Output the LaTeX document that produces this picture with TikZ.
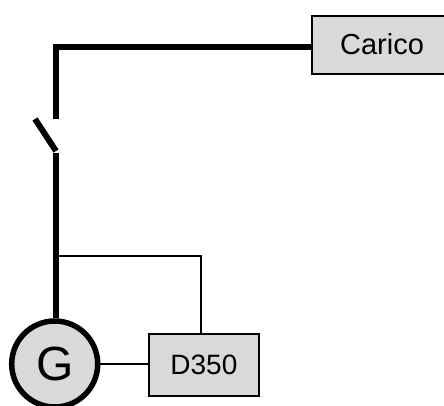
\documentclass[tikz,border=0pt]{standalone}
\usepackage{fontspec}
\setmainfont{Liberation Sans}
\definecolor{boxgray}{HTML}{D9D9D9}
\tikzset{
  thick wire/.style={draw=black,line width=6pt},
  thin wire/.style={draw=black,line width=2.5pt},
  blockbox/.style={draw=black,line width=1.8pt,fill=boxgray,rectangle,inner sep=0pt,anchor=north west},
  gen/.style={draw=black,line width=5.5pt,fill=boxgray,circle,inner sep=0pt,minimum size=86pt}
}
\begin{document}
\begin{tikzpicture}[x=1pt,y=-1pt]
\useasboundingbox (0,0) rectangle (444,406);
\clip (0,0) rectangle (444,406);
\node[blockbox,minimum width=140pt,minimum height=58pt] (carico) at (311,15) {};
\node[font=\fontsize{29}{32}\selectfont] (caricotxt) at (382,44.5) {Carico};
\node[blockbox,minimum width=110pt,minimum height=62pt] (d350) at (148,333) {\fontsize{28}{30}\selectfont D350};
\node[gen,font=\fontsize{48}{50}\selectfont] (g) at (54.7,364) {G};
\coordinate (corner) at (56,47.5);
\coordinate (swtop) at (56,119);
\coordinate (swa) at (35,119);
\coordinate (swb) at (56,151);
\coordinate (swc) at (56,153);
\coordinate (tap) at (56,256);
\coordinate (tapr) at (201,256);
\draw[thick wire] (carico.west |- corner) -- (corner);
\draw[thick wire] (corner) ++(0,-3) -- (swtop);
\draw[thick wire] (swa) -- (swb);
\draw[thick wire] (swc) -- (swc |- g.north);
\draw[thin wire] (tap) -- (tapr) -- (tapr |- d350.north);
\draw[thin wire] (g.east) -- (d350.west |- g.east);
\end{tikzpicture}
\end{document}
